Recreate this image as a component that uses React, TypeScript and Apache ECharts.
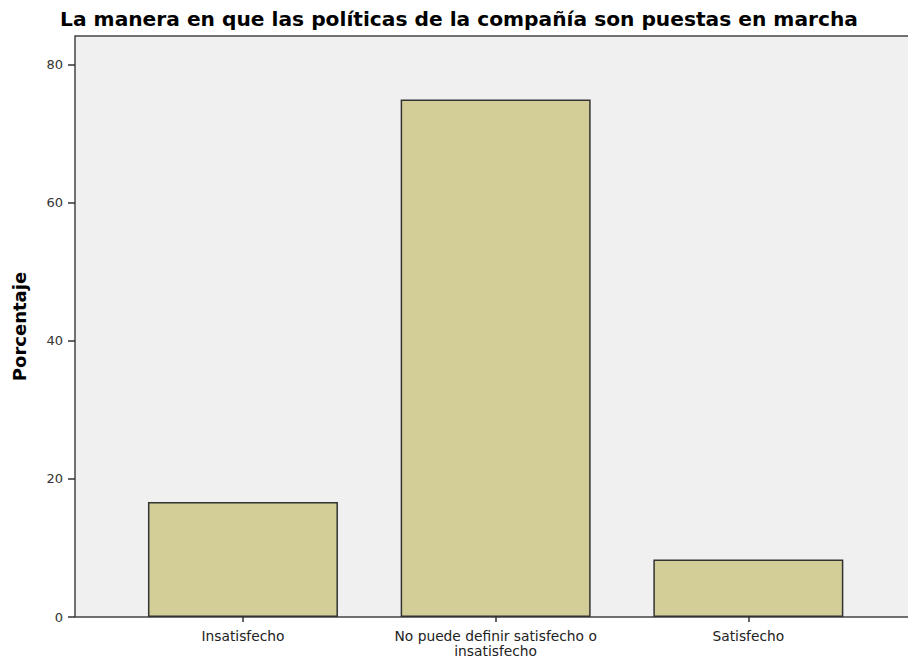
import React, { useEffect, useRef } from "react";
import * as echarts from "echarts";

const categories = ["Insatisfecho", "No puede definir satisfecho o\ninsatisfecho", "Satisfecho"];
const percentages = [16.67, 75.0, 8.33];
const yTicks = [0, 20, 40, 60, 80];
const titleText = "La manera en que las políticas de la compañía son puestas en marcha";
const yName = "Porcentaje";

export default function App() {
  const ref = useRef<HTMLDivElement>(null);
  useEffect(() => {
    if (!ref.current) return;
    const chart = echarts.init(ref.current, null, { renderer: "svg" });
    const plotLeft = 75;
    const plotTop = 36;
    const plotBottom = 617;
    const font = "DejaVu Sans, Verdana, sans-serif";
    chart.setOption({
      animation: false,
      backgroundColor: "#ffffff",
      title: {
        text: titleText,
        left: 454,
        textAlign: "center",
        top: 4,
        textStyle: { fontFamily: font, fontWeight: "bold", fontSize: 20.2, color: "#000" },
      },
      graphic: [
        {
          type: "rect",
          z: -10,
          shape: { x: plotLeft, y: plotTop, width: 900, height: plotBottom - plotTop },
          style: { fill: "#f0f0f0", stroke: "#444", lineWidth: 1.5 },
        },
      ],
      grid: { left: 116.6, right: 33.3, top: plotTop, bottom: 663 - plotBottom },
      xAxis: {
        type: "category",
        data: categories,
        boundaryGap: true,
        axisLine: { show: false },
        axisTick: { show: true, alignWithLabel: true, interval: 0, length: 5, lineStyle: { color: "#333", width: 1.5 } },
        axisLabel: { interval: 0, hideOverlap: false, fontFamily: font, fontSize: 13.8, color: "#222", lineHeight: 15.5, margin: 11 },
      },
      yAxis: {
        type: "value",
        min: 0,
        max: 84.2,
        interval: 20,
        offset: 41.6,
        name: yName,
        nameLocation: "middle",
        nameGap: 47,
        nameTextStyle: { fontFamily: font, fontWeight: "bold", fontSize: 18, color: "#000" },
        axisLine: { show: false },
        axisTick: { show: true, length: 7, lineStyle: { color: "#333", width: 1.5 } },
        axisLabel: {
          fontFamily: font,
          fontSize: 13,
          color: "#333",
          margin: 12,
          showMaxLabel: false,
          formatter: (v: number) => (yTicks.includes(v) ? String(v) : ""),
        },
        splitLine: { show: false },
      },
      series: [
        {
          type: "bar",
          data: percentages,
          barWidth: 190,
          itemStyle: { color: "#d3ce97", borderColor: "#333", borderWidth: 1.5 },
        },
      ],
    });
    return () => chart.dispose();
  }, []);
  return <div ref={ref} style={{ position: "fixed", left: 0, top: 0, width: 908, height: 663 }} />;
}
